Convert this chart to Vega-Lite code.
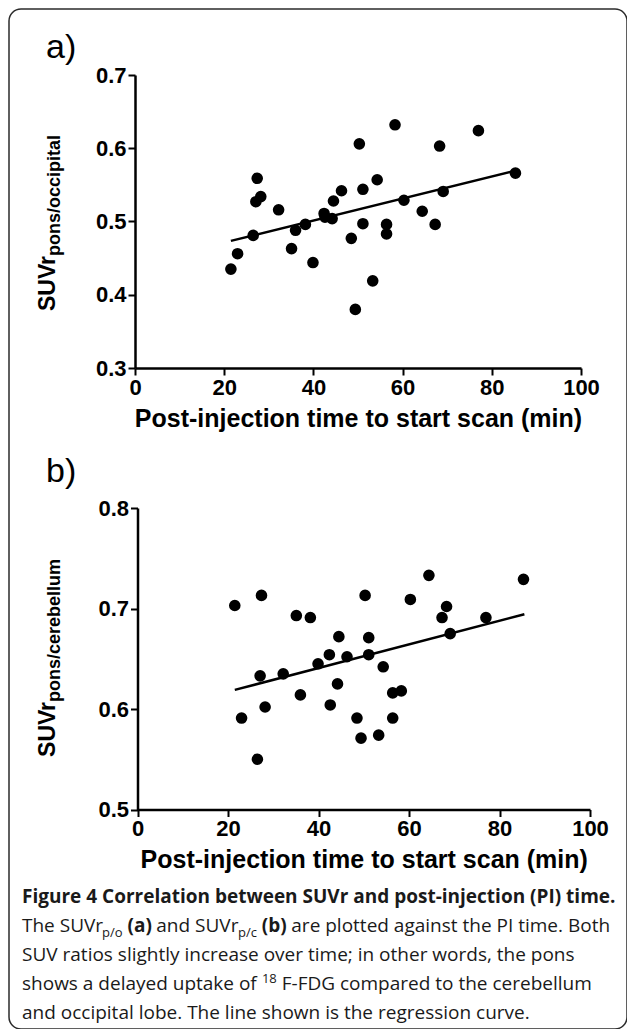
{
  "$schema": "https://vega.github.io/schema/vega-lite/v6.json",
  "width": 618,
  "height": 1020,
  "autosize": {"type": "none"},
  "padding": {"left": 9, "top": 9, "right": 0, "bottom": 0},
  "background": "white",
  "config": {
    "view": {"stroke": "#2b2b2b", "strokeWidth": 1.5, "cornerRadius": 12},
    "axis": {
      "grid": false,
      "domainColor": "black",
      "domainWidth": 2.5,
      "tickColor": "black",
      "tickWidth": 2,
      "tickSize": 7,
      "labelFont": "Liberation Sans",
      "labelFontWeight": "bold",
      "labelFontSize": 22,
      "labelColor": "black",
      "labelPadding": 2,
      "labelFlush": false,
      "labelOverlap": false,
      "titleFont": "Liberation Sans",
      "titleFontWeight": "bold",
      "titleFontSize": 25,
      "titleColor": "black",
      "titlePadding": 8
    }
  },
  "datasets": {
    "pts": [
      {"t": 21.5, "po": 0.435, "pc": 0.703},
      {"t": 23.0, "po": 0.456, "pc": 0.591},
      {"t": 26.5, "po": 0.481, "pc": 0.550},
      {"t": 27.1, "po": 0.527, "pc": 0.633},
      {"t": 27.4, "po": 0.559, "pc": 0.713},
      {"t": 28.2, "po": 0.534, "pc": 0.602},
      {"t": 32.2, "po": 0.516, "pc": 0.635},
      {"t": 35.1, "po": 0.463, "pc": 0.693},
      {"t": 36.0, "po": 0.488, "pc": 0.614},
      {"t": 38.2, "po": 0.496, "pc": 0.691},
      {"t": 39.9, "po": 0.444, "pc": 0.645},
      {"t": 42.4, "po": 0.511, "pc": 0.654},
      {"t": 42.6, "po": 0.506, "pc": 0.604},
      {"t": 44.2, "po": 0.504, "pc": 0.625},
      {"t": 44.5, "po": 0.528, "pc": 0.672},
      {"t": 46.3, "po": 0.542, "pc": 0.652},
      {"t": 48.5, "po": 0.477, "pc": 0.591},
      {"t": 49.4, "po": 0.380, "pc": 0.571},
      {"t": 50.3, "po": 0.606, "pc": 0.713},
      {"t": 51.1, "po": 0.544, "pc": 0.671},
      {"t": 51.1, "po": 0.497, "pc": 0.654},
      {"t": 53.3, "po": 0.419, "pc": 0.574},
      {"t": 54.3, "po": 0.557, "pc": 0.642},
      {"t": 56.4, "po": 0.496, "pc": 0.616},
      {"t": 56.4, "po": 0.483, "pc": 0.591},
      {"t": 58.3, "po": 0.632, "pc": 0.618},
      {"t": 60.3, "po": 0.529, "pc": 0.709},
      {"t": 64.4, "po": 0.514, "pc": 0.733},
      {"t": 67.3, "po": 0.496, "pc": 0.691},
      {"t": 68.3, "po": 0.603, "pc": 0.702},
      {"t": 69.1, "po": 0.541, "pc": 0.675},
      {"t": 77.0, "po": 0.624, "pc": 0.691},
      {"t": 85.3, "po": 0.566, "pc": 0.729}
    ],
    "fit": [
      {"t": 21.5, "po": 0.4735, "pc": 0.619},
      {"t": 85.5, "po": 0.5698, "pc": 0.6943}
    ]
  },
  "layer": [
    {
      "layer": [
        {
          "data": {"name": "pts"},
          "mark": {"type": "point", "filled": true, "size": 135, "color": "black", "opacity": 1},
          "encoding": {
            "x": {
              "field": "t", "type": "quantitative",
              "scale": {"domain": [0, 100], "range": [126, 572], "nice": false, "zero": false},
              "axis": {"orient": "bottom", "offset": -661, "values": [0, 20, 40, 60, 80, 100], "title": "Post-injection time to start scan (min)"}
            },
            "y": {
              "field": "po", "type": "quantitative",
              "scale": {"domain": [0.3, 0.7], "range": [359, 66], "nice": false, "zero": false},
              "axis": {"orient": "left", "offset": -126, "values": [0.3, 0.4, 0.5, 0.6, 0.7], "format": ".1f", "title": null}
            }
          }
        },
        {
          "data": {"name": "fit"},
          "mark": {"type": "line", "color": "black", "strokeWidth": 2.5},
          "encoding": {
            "x": {"field": "t", "type": "quantitative", "title": "Post-injection time to start scan (min)"},
            "y": {"field": "po", "type": "quantitative", "title": null}
          }
        },
        {
          "data": {"values": [{}]},
          "mark": {"type": "text", "text": "a)", "font": "Liberation Sans", "fontSize": 34, "align": "left", "baseline": "alphabetic", "color": "black"},
          "encoding": {"x": {"datum": -19.96, "type": "quantitative"}, "y": {"datum": 0.7232, "type": "quantitative"}}
        },
        {
          "data": {"values": [{}]},
          "mark": {"type": "text", "text": "SUVr", "font": "Liberation Sans", "fontWeight": "bold", "fontSize": 23, "angle": 270, "align": "right", "baseline": "alphabetic", "color": "black"},
          "encoding": {"x": {"datum": -17.94, "type": "quantitative"}, "y": {"datum": 0.4529, "type": "quantitative"}}
        },
        {
          "data": {"values": [{}]},
          "mark": {"type": "text", "text": "pons/occipital", "font": "Liberation Sans", "fontWeight": "bold", "fontSize": 18, "angle": 270, "align": "left", "baseline": "alphabetic", "color": "black"},
          "encoding": {"x": {"datum": -16.82, "type": "quantitative"}, "y": {"datum": 0.4529, "type": "quantitative"}}
        }
      ]
    },
    {
      "layer": [
        {
          "data": {"name": "pts"},
          "mark": {"type": "point", "filled": true, "size": 135, "color": "black", "opacity": 1},
          "encoding": {
            "x": {
              "field": "t", "type": "quantitative",
              "scale": {"domain": [0, 100], "range": [128.5, 581], "nice": false, "zero": false},
              "axis": {"orient": "bottom", "offset": -219.5, "values": [0, 20, 40, 60, 80, 100], "title": "Post-injection time to start scan (min)"}
            },
            "y": {
              "field": "pc", "type": "quantitative",
              "scale": {"domain": [0.5, 0.8], "range": [800.5, 499], "nice": false, "zero": false},
              "axis": {"orient": "left", "offset": -128.5, "values": [0.5, 0.6, 0.7, 0.8], "format": ".1f", "title": null}
            }
          }
        },
        {
          "data": {"name": "fit"},
          "mark": {"type": "line", "color": "black", "strokeWidth": 2.5},
          "encoding": {
            "x": {"field": "t", "type": "quantitative", "title": "Post-injection time to start scan (min)"},
            "y": {"field": "pc", "type": "quantitative", "title": null}
          }
        },
        {
          "data": {"values": [{}]},
          "mark": {"type": "text", "text": "b)", "font": "Liberation Sans", "fontSize": 34, "align": "left", "baseline": "alphabetic", "color": "black"},
          "encoding": {"x": {"datum": -20.22, "type": "quantitative"}, "y": {"datum": 0.8259, "type": "quantitative"}}
        },
        {
          "data": {"values": [{}]},
          "mark": {"type": "text", "text": "SUVr", "font": "Liberation Sans", "fontWeight": "bold", "fontSize": 23, "angle": 270, "align": "right", "baseline": "alphabetic", "color": "black"},
          "encoding": {"x": {"datum": -18.23, "type": "quantitative"}, "y": {"datum": 0.607, "type": "quantitative"}}
        },
        {
          "data": {"values": [{}]},
          "mark": {"type": "text", "text": "pons/cerebellum", "font": "Liberation Sans", "fontWeight": "bold", "fontSize": 18, "angle": 270, "align": "left", "baseline": "alphabetic", "color": "black"},
          "encoding": {"x": {"datum": -17.13, "type": "quantitative"}, "y": {"datum": 0.607, "type": "quantitative"}}
        },
        {
          "data": {"values": [{}]},
          "mark": {"type": "text", "text": "Figure 4 Correlation between SUVr and post-injection (PI) time.", "font": "Open Sans", "fontWeight": "bold", "fontSize": 19, "align": "left", "baseline": "alphabetic", "color": "#1a1a1a"},
          "encoding": {"x": {"datum": -25.525, "type": "quantitative"}, "y": {"datum": 0.40697, "type": "quantitative"}}
        },
        {
          "data": {"values": [{}]},
          "mark": {"type": "text", "text": "The SUVr", "font": "Open Sans", "fontSize": 19, "align": "left", "baseline": "alphabetic", "color": "#1a1a1a"},
          "encoding": {"x": {"datum": -25.525, "type": "quantitative"}, "y": {"datum": 0.37811, "type": "quantitative"}}
        },
        {
          "data": {"values": [{}]},
          "mark": {"type": "text", "text": "p/o", "font": "Open Sans", "fontSize": 13, "align": "left", "baseline": "alphabetic", "color": "#1a1a1a"},
          "encoding": {"x": {"datum": -7.823, "type": "quantitative"}, "y": {"datum": 0.37313, "type": "quantitative"}}
        },
        {
          "data": {"values": [{}]},
          "mark": {"type": "text", "text": "(a)", "font": "Open Sans", "fontWeight": "bold", "fontSize": 19, "align": "left", "baseline": "alphabetic", "color": "#1a1a1a"},
          "encoding": {"x": {"datum": -2.188, "type": "quantitative"}, "y": {"datum": 0.37811, "type": "quantitative"}}
        },
        {
          "data": {"values": [{}]},
          "mark": {"type": "text", "text": "and SUVr", "font": "Open Sans", "fontSize": 19, "align": "left", "baseline": "alphabetic", "color": "#1a1a1a"},
          "encoding": {"x": {"datum": 4.155, "type": "quantitative"}, "y": {"datum": 0.37811, "type": "quantitative"}}
        },
        {
          "data": {"values": [{}]},
          "mark": {"type": "text", "text": "p/c", "font": "Open Sans", "fontSize": 13, "align": "left", "baseline": "alphabetic", "color": "#1a1a1a"},
          "encoding": {"x": {"datum": 22.21, "type": "quantitative"}, "y": {"datum": 0.37313, "type": "quantitative"}}
        },
        {
          "data": {"values": [{}]},
          "mark": {"type": "text", "text": "(b)", "font": "Open Sans", "fontWeight": "bold", "fontSize": 19, "align": "left", "baseline": "alphabetic", "color": "#1a1a1a"},
          "encoding": {"x": {"datum": 27.47, "type": "quantitative"}, "y": {"datum": 0.37811, "type": "quantitative"}}
        },
        {
          "data": {"values": [{}]},
          "mark": {"type": "text", "text": "are plotted against the PI time. Both", "font": "Open Sans", "fontSize": 19, "align": "left", "baseline": "alphabetic", "color": "#1a1a1a"},
          "encoding": {"x": {"datum": 33.99, "type": "quantitative"}, "y": {"datum": 0.37811, "type": "quantitative"}}
        },
        {
          "data": {"values": [{}]},
          "mark": {"type": "text", "text": "SUV ratios slightly increase over time; in other words, the pons", "font": "Open Sans", "fontSize": 19, "align": "left", "baseline": "alphabetic", "color": "#1a1a1a"},
          "encoding": {"x": {"datum": -25.525, "type": "quantitative"}, "y": {"datum": 0.34925, "type": "quantitative"}}
        },
        {
          "data": {"values": [{}]},
          "mark": {"type": "text", "text": "shows a delayed uptake of", "font": "Open Sans", "fontSize": 19, "align": "left", "baseline": "alphabetic", "color": "#1a1a1a"},
          "encoding": {"x": {"datum": -25.525, "type": "quantitative"}, "y": {"datum": 0.3204, "type": "quantitative"}}
        },
        {
          "data": {"values": [{}]},
          "mark": {"type": "text", "text": "18", "font": "Open Sans", "fontSize": 13, "align": "left", "baseline": "alphabetic", "color": "#1a1a1a"},
          "encoding": {"x": {"datum": 27.49, "type": "quantitative"}, "y": {"datum": 0.32736, "type": "quantitative"}}
        },
        {
          "data": {"values": [{}]},
          "mark": {"type": "text", "text": "F-FDG compared to the cerebellum", "font": "Open Sans", "fontSize": 19, "align": "left", "baseline": "alphabetic", "color": "#1a1a1a"},
          "encoding": {"x": {"datum": 31.87, "type": "quantitative"}, "y": {"datum": 0.3204, "type": "quantitative"}}
        },
        {
          "data": {"values": [{}]},
          "mark": {"type": "text", "text": "and occipital lobe. The line shown is the regression curve.", "font": "Open Sans", "fontSize": 19, "align": "left", "baseline": "alphabetic", "color": "#1a1a1a"},
          "encoding": {"x": {"datum": -25.525, "type": "quantitative"}, "y": {"datum": 0.29154, "type": "quantitative"}}
        }
      ]
    }
  ],
  "resolve": {
    "scale": {"x": "independent", "y": "independent"},
    "axis": {"x": "independent", "y": "independent"}
  }
}
